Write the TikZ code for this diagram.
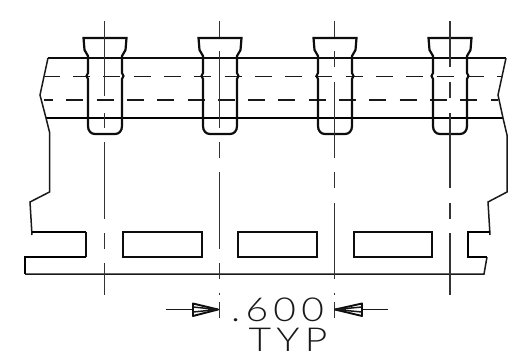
\documentclass[tikz,border=0pt]{standalone}
\usepackage{fontspec}
\newfontfamily\plotfont[Scale=1,LetterSpace=16,FakeStretch=1.18]{Lato Light}
\tikzset{
  thinline/.style={line width=1.5pt,black!90},
  outline/.style={line width=1.9pt,black!95},
  heavy/.style={line width=2.7pt,black},
  pinline/.style={line width=2.2pt,black!95},
  centerline/.style={line width=1.6pt,black!80},
  hiddenA/.style={line width=1.7pt,black!90,dash pattern=on 17pt off 13.3pt,dash phase=2.3pt},
  hiddenB/.style={line width=1.7pt,black!90,dash pattern=on 17pt off 13.3pt,dash phase=8pt},
  plottext/.style={inner sep=0pt,font=\plotfont\fontsize{33}{33}\selectfont,text=black!90,anchor=south,text height=23pt,text depth=0pt}
}
\begin{document}
\begin{tikzpicture}[x=1pt,y=-1pt,line join=miter]
\useasboundingbox (0,0) rectangle (524,361);
% body
\draw[outline] (48,58) -- (506,58);
\draw[heavy] (46,118) -- (503,118);
\draw[thinline] (48,58) -- (40,95) -- (46,118) -- (49.5,132) -- (49.5,192) -- (30,202) -- (32,235);
\draw[thinline] (506,58) -- (498,95) -- (503,118) -- (507,135) -- (507,192) -- (488,202) -- (490,235);
\draw[heavy] (32,232) -- (86,232);
\draw[outline] (86,232) -- (86,257);
\draw[heavy] (86,257) -- (25,257) -- (25,274);
\draw[thinline] (25,274) -- (484,274) -- (487,257);
\draw[heavy] (487,257) -- (468,257) -- (468,232) -- (490,232);
% windows
\foreach \xa/\xb in {123/202,238/317,354/432}
  \draw[outline] (\xa,232) rectangle (\xb,257);
% hidden lines
\draw[hiddenA] (45,76.5) -- (502,76.5);
\draw[hiddenB] (44,100) -- (498,100);
% pins
\foreach \c in {105,220,335,450}
  \draw[pinline] (\c-21.5,38) -- (\c+21.5,38) -- (\c+20.5,50) -- (\c+17,56) -- (\c+17,73) -- (\c+18.5,76) -- (\c+17,79) -- (\c+17,126)
    .. controls (\c+17,131) and (\c+14,134) .. (\c+10,134) -- (\c-10,134)
    .. controls (\c-14,134) and (\c-17,131) .. (\c-17,126) -- (\c-17,79) -- (\c-18.5,76) -- (\c-17,73) -- (\c-17,56) -- (\c-20.5,50) -- cycle;
% center lines
\foreach \a/\b in {21/96,113/128,142/219,233/249,263/295}
  \draw[centerline] (104.5,\a) -- (104.5,\b);
\foreach \a/\b in {21/37,51/128,142/158,172/249,263/279,293/294.5,302/318}
  \draw[centerline] (219.5,\a) -- (219.5,\b);
\foreach \a/\b in {21/37,51/67,82/158,172/188,203/279,293/294.5,302/318}
  \draw[centerline] (334.5,\a) -- (334.5,\b);
\foreach \a/\b in {21/67,82/98,113/188,203/219,233/295}
  \draw[centerline] (450,\a) -- (450,\b);
% dimension
\coordinate (lfree) at (166,309.5);
\coordinate (ltip) at (218,309.5);
\coordinate (rfree) at (388,309.5);
\coordinate (rtip) at (335,309.5);
\draw[thinline] (lfree) -- (193,309.5);
\draw[thinline] (rfree) -- (362,309.5);
\draw[outline,line join=round] (ltip) -- (193,303.5) -- (193,316) -- cycle;
\draw[thinline] (ltip) -- (193,307) (ltip) -- (193,312);
\draw[outline,line join=round] (rtip) -- (362,303.5) -- (362,316) -- cycle;
\draw[thinline] (rtip) -- (362,307) (rtip) -- (362,312);
\node[plottext] (dim) at (277.5,322) {.600};
\node[plottext] (typ) at (288,352) {TYP};
\end{tikzpicture}
\end{document}
